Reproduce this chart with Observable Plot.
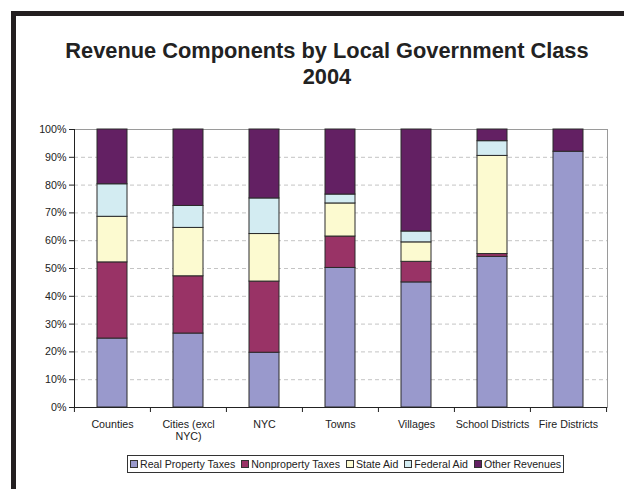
<!DOCTYPE html>
<html>
<head>
<meta charset="utf-8">
<script src="https://cdn.jsdelivr.net/npm/d3@7"></script>
<script src="https://cdn.jsdelivr.net/npm/@observablehq/plot@0.6"></script>
<style>
  html, body { margin: 0; padding: 0; background: #fff; }
  body { width: 624px; height: 489px; position: relative; overflow: hidden; font-family: "Liberation Sans", Arial, sans-serif; color: #222; }
  #frame { position: absolute; left: 11px; top: 11px; width: 700px; height: 600px; border-left: 5px solid #231f20; border-top: 5px solid #231f20; }
  #title { position: absolute; left: 0; top: 38px; width: 654px; text-align: center; font-weight: bold; font-size: 21.8px; line-height: 26px; color: #222; }
  #chart { position: absolute; left: 0; top: 110px; }
  #legend { position: absolute; left: 127px; top: 455px; height: 16px; border: 1px solid #333; background: #fff; display: flex; align-items: center; font-size: 10.6px; padding: 0 2px; white-space: nowrap; }
  #legend .item { display: flex; align-items: center; margin-right: 6px; }
  #legend .item:last-child { margin-right: 0; }
  #legend .sw { width: 6px; height: 6px; border: 1px solid #333; margin-right: 2px; }
</style>
</head>
<body>
<div id="frame"></div>
<div id="title">Revenue Components by Local Government Class<br>2004</div>
<div id="chart"></div>
<div id="legend"></div>
<script>
const categories = ["Counties", "Cities (excl NYC)", "NYC", "Towns", "Villages", "School Districts", "Fire Districts"];
const series = ["Real Property Taxes", "Nonproperty Taxes", "State Aid", "Federal Aid", "Other Revenues"];
const colors = ["#9999cc", "#993366", "#fcfad0", "#d3ecf2", "#632063"];

const realProperty = [24.8, 26.6, 19.7, 50.2, 45.0, 54.2, 92.0];
const nonproperty  = [27.4, 20.6, 25.6, 11.3,  7.4,  1.0,  0.0];
const stateAid     = [16.4, 17.4, 17.1, 11.9,  7.0, 35.3,  0.0];
const federalAid   = [11.7,  7.9, 12.8,  3.2,  3.9,  5.3,  0.0];
const otherRev     = [19.7, 27.5, 24.8, 23.4, 36.7,  4.2,  8.0];

const yTicks = [0, 10, 20, 30, 40, 50, 60, 70, 80, 90, 100];
const gridTicks = [10, 20, 30, 40, 50, 60, 70, 80, 90];
const tickLabels = {"Cities (excl NYC)": "Cities (excl\nNYC)"};

const seriesValues = [realProperty, nonproperty, stateAid, federalAid, otherRev];
const data = [];
categories.forEach((c, i) => {
  series.forEach((s, j) => {
    const v = seriesValues[j][i];
    if (v > 0) data.push({category: c, series: s, value: v});
  });
});

const W = 624, H = 340, ML = 74, MR = 17, MT = 19, MB = 43;
const step = (W - ML - MR) / categories.length;

const chart = Plot.plot({
  width: W, height: H,
  marginLeft: ML, marginRight: MR, marginTop: MT, marginBottom: MB,
  style: {fontFamily: "'Liberation Sans', Arial, sans-serif", fontSize: "10.7px", color: "#222", background: "transparent"},
  x: {domain: categories, paddingInner: 0.6, paddingOuter: 0.3, axis: null, label: null},
  y: {domain: [0, 100], axis: null, label: null},
  color: {domain: series, range: colors},
  marks: [
    Plot.ruleY(gridTicks, {stroke: "#c4c4c4", strokeDasharray: "4,3", strokeWidth: 1}),
    Plot.frame({stroke: "#9a9a9a"}),
    Plot.barY(data, Plot.stackY({x: "category", y: "value", fill: "series", order: series, stroke: "#2a2a2a", strokeWidth: 1})),
    Plot.frame({anchor: "left", stroke: "#222"}),
    Plot.ruleY([0], {stroke: "#222"}),
    Plot.axisY({ticks: yTicks, tickSize: 5, tickPadding: 3, tickFormat: d => d + "%", stroke: "#222", fill: "#222", label: null}),
    Plot.axisX({tickSize: 0, tickPadding: 11, tickFormat: d => tickLabels[d] || d, fill: "#222", lineHeight: 1.2, label: null}),
    Plot.ruleX(categories, {x: d => d, y1: 0, y2: 0, insetBottom: -5, dx: -step / 2, stroke: "#222"}),
    Plot.ruleX(categories.slice(-1), {x: d => d, y1: 0, y2: 0, insetBottom: -5, dx: step / 2, stroke: "#222"})
  ]
});
document.getElementById("chart").appendChild(chart);

const legend = document.getElementById("legend");
series.forEach((s, j) => {
  const item = document.createElement("div");
  item.className = "item";
  const sw = document.createElement("div");
  sw.className = "sw";
  sw.style.background = colors[j];
  item.appendChild(sw);
  const t = document.createElement("span");
  t.textContent = s;
  item.appendChild(t);
  legend.appendChild(item);
});
</script>
</body>
</html>
